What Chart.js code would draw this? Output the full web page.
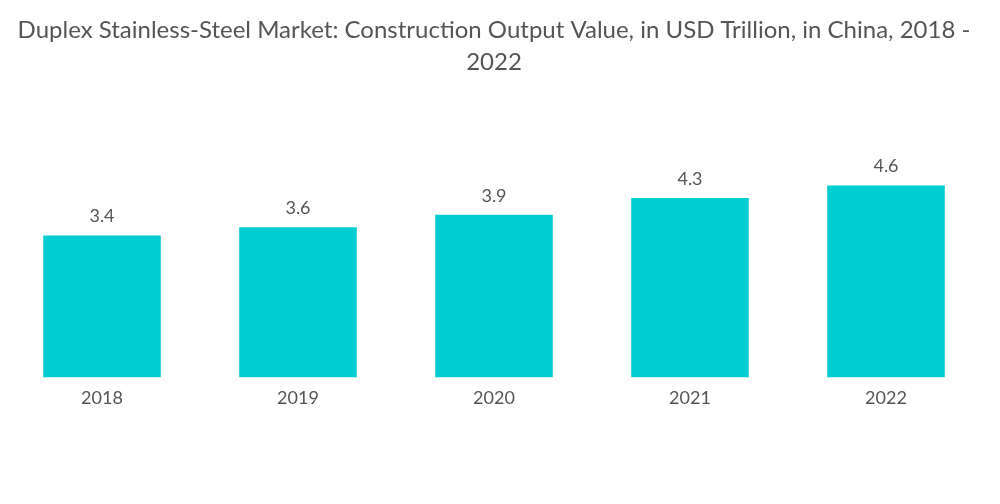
<!DOCTYPE html>
<html>
<head>
<meta charset="utf-8">
<script src="https://cdn.jsdelivr.net/npm/chart.js@4/dist/chart.umd.min.js"></script>
<style>
html,body{margin:0;padding:0;background:#fff;}
#wrap{width:1000px;height:504px;position:relative;}
</style>
</head>
<body>
<div id="wrap"><canvas id="c" width="1000" height="504"></canvas></div>
<script>
const categories = ["2018", "2019", "2020", "2021", "2022"];
const values = [3.4, 3.6, 3.9, 4.3, 4.6];
const titleLines = ["Duplex Stainless-Steel Market: Construction Output Value, in USD Trillion, in China, 2018 -", "2022"];

const labelPlugin = {
  id: 'valueLabels',
  afterDatasetsDraw(chart) {
    const ctx = chart.ctx;
    const meta = chart.getDatasetMeta(0);
    ctx.save();
    ctx.font = '18px Lato';
    ctx.fillStyle = '#555555';
    ctx.textAlign = 'center';
    ctx.textBaseline = 'bottom';
    meta.data.forEach((bar, i) => {
      ctx.fillText(values[i].toFixed(1), bar.x, bar.y - 10);
    });
    ctx.restore();
  }
};

new Chart(document.getElementById('c'), {
  type: 'bar',
  data: {
    labels: categories,
    datasets: [{
      data: values,
      backgroundColor: '#00CED1',
      borderWidth: 0,
      categoryPercentage: 0.6,
      barPercentage: 1.0
    }]
  },
  options: {
    responsive: false,
    animation: false,
    devicePixelRatio: 1,
    layout: { padding: { left: 4, right: 16, top: 0, bottom: 85 } },
    plugins: {
      legend: { display: false },
      tooltip: { enabled: false },
      title: {
        display: true,
        text: titleLines,
        color: '#555555',
        font: { family: 'Lato', size: 24, weight: 'normal', lineHeight: 1.333 },
        padding: { top: 14, bottom: 70 }
      }
    },
    scales: {
      x: {
        grid: { display: false, drawTicks: false },
        border: { display: false },
        ticks: { color: '#555555', font: { family: 'Lato', size: 18 }, padding: 10 }
      },
      y: {
        display: false,
        min: 0,
        max: 5.5
      }
    }
  },
  plugins: [labelPlugin]
});
</script>
</body>
</html>
